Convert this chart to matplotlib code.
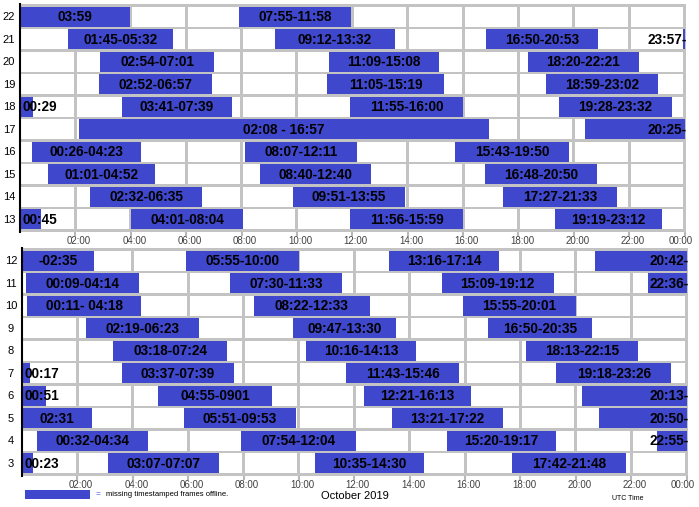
import matplotlib
matplotlib.use('Agg')
from matplotlib import pyplot as plt
from matplotlib.patches import Rectangle
import matplotlib.transforms as mtransforms

plt.rcParams['font.family'] = ['Liberation Sans', 'DejaVu Sans']

barColor = '#3f48cc'
gridColor = '#c3c3c3'

# ---- data: offline intervals per day, October 2019 (UTC) ----
topDays = [22, 21, 20, 19, 18, 17, 16, 15, 14, 13]
topStarts = [['00:00', '07:55'],
             ['01:45', '09:12', '16:50', '23:57'],
             ['02:54', '11:09', '18:20'],
             ['02:52', '11:05', '18:59'],
             ['00:00', '03:41', '11:55', '19:28'],
             ['02:08', '20:25'],
             ['00:26', '08:07', '15:43'],
             ['01:01', '08:40', '16:48'],
             ['02:32', '09:51', '17:27'],
             ['00:00', '04:01', '11:56', '19:19']]
topEnds = [['03:59', '11:58'],
           ['05:32', '13:32', '20:53', '24:00'],
           ['07:01', '15:08', '22:21'],
           ['06:57', '15:19', '23:02'],
           ['00:29', '07:39', '16:00', '23:32'],
           ['16:57', '24:00'],
           ['04:23', '12:11', '19:50'],
           ['04:52', '12:40', '20:50'],
           ['06:35', '13:55', '21:33'],
           ['00:45', '08:04', '15:59', '23:12']]
topLabels = [['03:59', '07:55-11:58'],
             ['01:45-05:32', '09:12-13:32', '16:50-20:53', '23:57-'],
             ['02:54-07:01', '11:09-15:08', '18:20-22:21'],
             ['02:52-06:57', '11:05-15:19', '18:59-23:02'],
             ['00:29', '03:41-07:39', '11:55-16:00', '19:28-23:32'],
             ['02:08 - 16:57', '20:25-'],
             ['00:26-04:23', '08:07-12:11', '15:43-19:50'],
             ['01:01-04:52', '08:40-12:40', '16:48-20:50'],
             ['02:32-06:35', '09:51-13:55', '17:27-21:33'],
             ['00:45', '04:01-08:04', '11:56-15:59', '19:19-23:12']]

bottomDays = [12, 11, 10, 9, 8, 7, 6, 5, 4, 3]
bottomStarts = [['00:00', '05:55', '13:16', '20:42'],
                ['00:09', '07:30', '15:09', '22:36'],
                ['00:11', '08:22', '15:55'],
                ['02:19', '09:47', '16:50'],
                ['03:18', '10:16', '18:13'],
                ['00:00', '03:37', '11:43', '19:18'],
                ['00:00', '04:55', '12:21', '20:13'],
                ['00:00', '05:51', '13:21', '20:50'],
                ['00:32', '07:54', '15:20', '22:55'],
                ['00:00', '03:07', '10:35', '17:42']]
bottomEnds = [['02:35', '10:00', '17:14', '24:00'],
              ['04:14', '11:33', '19:12', '24:00'],
              ['04:18', '12:33', '20:01'],
              ['06:23', '13:30', '20:35'],
              ['07:24', '14:13', '22:15'],
              ['00:17', '07:39', '15:46', '23:26'],
              ['00:51', '09:01', '16:13', '24:00'],
              ['02:31', '09:53', '17:22', '24:00'],
              ['04:34', '12:04', '19:17', '24:00'],
              ['00:23', '07:07', '14:30', '21:48']]
bottomLabels = [['-02:35', '05:55-10:00', '13:16-17:14', '20:42-'],
                ['00:09-04:14', '07:30-11:33', '15:09-19:12', '22:36-'],
                ['00:11- 04:18', '08:22-12:33', '15:55-20:01'],
                ['02:19-06:23', '09:47-13:30', '16:50-20:35'],
                ['03:18-07:24', '10:16-14:13', '18:13-22:15'],
                ['00:17', '03:37-07:39', '11:43-15:46', '19:18-23:26'],
                ['00:51', '04:55-0901', '12:21-16:13', '20:13-'],
                ['02:31', '05:51-09:53', '13:21-17:22', '20:50-'],
                ['00:32-04:34', '07:54-12:04', '15:20-19:17', '22:55-'],
                ['00:23', '03:07-07:07', '10:35-14:30', '17:42-21:48']]

tickHours = [2, 4, 6, 8, 10, 12, 14, 16, 18, 20, 22, 24]
tickLabels = ['02:00', '04:00', '06:00', '08:00', '10:00', '12:00',
              '14:00', '16:00', '18:00', '20:00', '22:00', '00:00']


def toHours(s):
    h, m = s.split(':')
    return int(h) + int(m) / 60.0


def drawPanel(ax, days, starts, ends, labels):
    gapY = 0.13
    gapX = 0.11
    xEnd = 24.05
    ax.set_facecolor(gridColor)
    ax.set_xlim(0, xEnd)
    ax.set_ylim(len(days) + gapY / 2, -gapY / 2)
    # white cells with gray borders
    for i in range(len(days)):
        edges = [0] + [h - gapX / 2 for h in tickHours]
        for j in range(len(edges) - 1):
            x0 = edges[j] if j == 0 else edges[j] + gapX
            ax.add_patch(Rectangle((x0, i + gapY / 2), edges[j + 1] - x0, 1 - gapY,
                                   facecolor='white', edgecolor='none', zorder=1))
    # offline bars
    for i, day in enumerate(days):
        for s, e, lab in zip(starts[i], ends[i], labels[i]):
            x0 = toHours(s)
            x1 = toHours(e)
            ax.add_patch(Rectangle((x0, i + gapY / 2), x1 - x0, 1 - gapY,
                                   facecolor=barColor, edgecolor='none', zorder=2))
            if lab.endswith('-'):
                ax.text(xEnd + 0.03, i + 0.52, lab, ha='right', va='center',
                        fontsize=9.8, fontweight='bold', zorder=3, clip_on=False)
            elif x0 == 0 and x1 - x0 < 1:
                ax.text(0.08, i + 0.52, lab, ha='left', va='center',
                        fontsize=9.8, fontweight='bold', zorder=3, clip_on=False)
            else:
                ax.text((x0 + x1) / 2, i + 0.52, lab, ha='center', va='center',
                        fontsize=9.8, fontweight='bold', zorder=3)
        ax.text(-0.4, i + 0.52, str(day), ha='center', va='center',
                fontsize=8, clip_on=False)
    ax.set_yticks([])
    ax.set_xticks(tickHours)
    ax.set_xticklabels(tickLabels, fontsize=7, color='#404040')
    ax.tick_params(axis='x', length=3, width=1.5, color='#b8b8b8', pad=0)
    shiftRight = mtransforms.ScaledTranslation(2.5 / 72, 0, ax.figure.dpi_scale_trans)
    shiftLeft = mtransforms.ScaledTranslation(-3 / 72, 0, ax.figure.dpi_scale_trans)
    xlabels = ax.get_xticklabels()
    for lbl in xlabels[:-1]:
        lbl.set_transform(lbl.get_transform() + shiftRight)
    xlabels[-1].set_transform(xlabels[-1].get_transform() + shiftLeft)
    for side in ['top', 'right', 'bottom']:
        ax.spines[side].set_visible(False)
    ax.spines['left'].set_color('black')
    ax.spines['left'].set_linewidth(1.5)


W, H = 699, 507
fig = plt.figure(figsize=(W / 100, H / 100), dpi=100)

axTop = fig.add_axes([20 / W, 1 - 232 / H, 666 / W, 228 / H])
drawPanel(axTop, topDays, topStarts, topEnds, topLabels)

axBottom = fig.add_axes([22 / W, 1 - 476 / H, 666 / W, 228 / H])
drawPanel(axBottom, bottomDays, bottomStarts, bottomEnds, bottomLabels)

# legend / captions
fig.patches.append(Rectangle((25 / W, 1 - 499 / H), 65 / W, 9 / H,
                             facecolor=barColor, edgecolor='none',
                             transform=fig.transFigure, figure=fig))
fig.text(96 / W, 1 - 495 / H, '=', fontsize=6, color=barColor, va='center')
fig.text(106 / W, 1 - 495 / H, 'missing timestamped frames offline.', fontsize=5.5,
         va='center')
fig.text(355 / W, 1 - 496 / H, 'October 2019', fontsize=8, ha='center', va='center')
fig.text(612 / W, 1 - 498 / H, 'UTC Time', fontsize=5, va='center')

fig.savefig('out.png', dpi=100)
